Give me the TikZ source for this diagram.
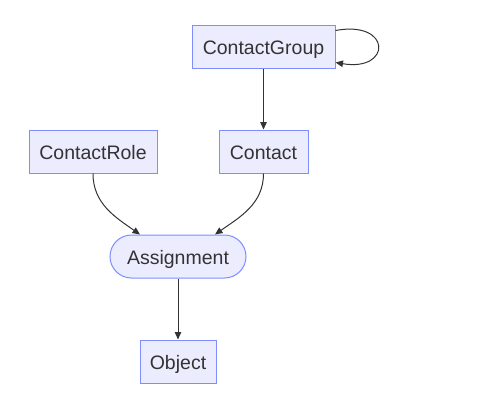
\documentclass[tikz,border=0pt]{standalone}
\usepackage{fontspec}
\setmainfont{Liberation Sans}
\usetikzlibrary{arrows.meta,shapes.misc}
\definecolor{nfill}{HTML}{ECECFF}
\definecolor{nline}{HTML}{7E8EFF}
\definecolor{ink}{HTML}{333333}
\tikzset{
  box/.style={draw=nline,fill=nfill,line width=1pt,text=ink,font=\fontsize{19.5}{23}\selectfont,inner sep=0pt,minimum height=43pt},
  pill/.style={box,rounded rectangle},
  arr/.style={draw=ink,line width=1pt,-{Triangle[length=7.5pt,width=6.5pt]}}
}
\newcommand{\lowr}[1]{\raisebox{-8pt}[0pt][0pt]{#1}}
\begin{document}
\begin{tikzpicture}[x=1pt,y=-1pt]
\useasboundingbox (0,0) rectangle (491,407);
\node[box,minimum width=143pt] (cg) at (263.5,46.5) {\lowr{ContactGroup}};
\node[box,minimum width=128pt] (cr) at (93,151.5) {\lowr{ContactRole}};
\node[box,minimum width=89pt] (c) at (263.5,151.5) {\lowr{Contact}};
\node[pill,minimum width=136pt] (a) at (178,256.5) {\lowr{Assignment}};
\node[box,minimum width=76pt] (o) at (178,361.5) {\lowr{Object}};
\coordinate (la) at ([xshift=-38pt]a.north);
\coordinate (ra) at ([xshift=37pt]a.north);
\draw[arr] ([yshift=16pt]cg.east) .. controls (392,20) and (392,72) .. ([yshift=-16pt]cg.east);
\draw[arr] (cg) -- (c);
\draw[arr] (cr.south) to[out=-90,in=145] (la);
\draw[arr] (c.south) to[out=-90,in=35] (ra);
\draw[arr] (a) -- (o);
\end{tikzpicture}
\end{document}
